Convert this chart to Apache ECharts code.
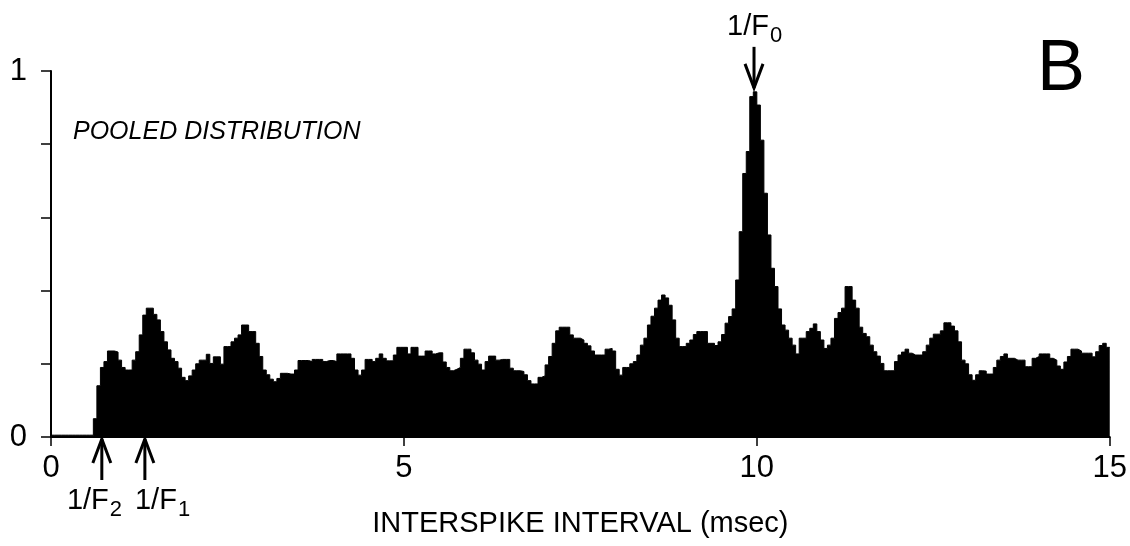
<!DOCTYPE html>
<html>
<head>
<meta charset="utf-8">
<title>Pooled interspike interval distribution</title>
<script src="https://cdn.jsdelivr.net/npm/echarts@6/dist/echarts.min.js"></script>
<style>
  html, body { margin: 0; padding: 0; background: #fff; }
  #chart { width: 1130px; height: 546px; }
</style>
</head>
<body>
<div id="chart"></div>
<script>
// histogram bins, 0.05 ms wide, heights normalised to 1
const binWidth = 0.05;

const bins0to3 = [
  0.005, 0.005, 0.005, 0.005, 0.005, 0.005, 0.005, 0.005, 0.005, 0.005,
  0.005, 0.005, 0.05, 0.14, 0.19, 0.206, 0.235, 0.235, 0.232, 0.21,
  0.19, 0.183, 0.183, 0.21, 0.233, 0.279, 0.333, 0.352, 0.352, 0.335,
  0.32, 0.288, 0.26, 0.238, 0.215, 0.206, 0.188, 0.163, 0.154, 0.167,
  0.183, 0.2, 0.21, 0.21, 0.226, 0.201, 0.219, 0.219, 0.199, 0.247,
  0.247, 0.26, 0.27, 0.279, 0.306, 0.306, 0.288, 0.288, 0.256, 0.22
];
const bins3to6 = [
  0.183, 0.17, 0.158, 0.151, 0.16, 0.174, 0.174, 0.172, 0.172, 0.183,
  0.209, 0.209, 0.209, 0.206, 0.212, 0.212, 0.212, 0.206, 0.209, 0.209,
  0.206, 0.227, 0.227, 0.227, 0.227, 0.215, 0.183, 0.169, 0.183, 0.212,
  0.212, 0.206, 0.215, 0.227, 0.215, 0.208, 0.208, 0.224, 0.245, 0.245,
  0.245, 0.227, 0.245, 0.245, 0.221, 0.221, 0.235, 0.235, 0.227, 0.23,
  0.23, 0.205, 0.19, 0.181, 0.185, 0.19, 0.215, 0.24, 0.24, 0.23
];
const bins6to9 = [
  0.21, 0.199, 0.183, 0.206, 0.221, 0.221, 0.21, 0.212, 0.212, 0.212,
  0.188, 0.181, 0.181, 0.179, 0.17, 0.154, 0.145, 0.145, 0.163, 0.167,
  0.197, 0.22, 0.256, 0.29, 0.3, 0.3, 0.3, 0.279, 0.27, 0.27,
  0.265, 0.256, 0.249, 0.235, 0.224, 0.224, 0.224, 0.24, 0.242, 0.235,
  0.185, 0.169, 0.19, 0.19, 0.2, 0.206, 0.224, 0.251, 0.27, 0.306,
  0.33, 0.352, 0.374, 0.388, 0.38, 0.36, 0.32, 0.27, 0.247, 0.247
];
const bins9to12 = [
  0.256, 0.265, 0.28, 0.288, 0.288, 0.288, 0.256, 0.256, 0.25, 0.26,
  0.28, 0.311, 0.329, 0.35, 0.429, 0.561, 0.72, 0.78, 0.93, 0.943,
  0.907, 0.811, 0.666, 0.552, 0.461, 0.411, 0.35, 0.306, 0.292, 0.27,
  0.251, 0.227, 0.27, 0.27, 0.288, 0.297, 0.309, 0.288, 0.265, 0.242,
  0.251, 0.27, 0.324, 0.34, 0.352, 0.411, 0.411, 0.374, 0.352, 0.3,
  0.283, 0.274, 0.251, 0.233, 0.221, 0.201, 0.181, 0.181, 0.181, 0.206
];
const bins12to15 = [
  0.224, 0.232, 0.24, 0.229, 0.224, 0.224, 0.224, 0.233, 0.251, 0.27,
  0.281, 0.281, 0.29, 0.312, 0.312, 0.303, 0.29, 0.26, 0.21, 0.2,
  0.17, 0.155, 0.17, 0.181, 0.18, 0.172, 0.172, 0.19, 0.21, 0.22,
  0.227, 0.215, 0.215, 0.21, 0.21, 0.21, 0.192, 0.192, 0.215, 0.22,
  0.227, 0.227, 0.227, 0.215, 0.21, 0.194, 0.185, 0.205, 0.22, 0.24,
  0.24, 0.235, 0.229, 0.229, 0.229, 0.219, 0.233, 0.25, 0.256, 0.245
];

// arrows: 1/F2, 1/F1 below the axis, 1/F0 above the main peak (ms)
const markIntervals = [0.72, 1.33, 9.96];
const markSubs = ['2', '1', '0'];

const FONT = '"Liberation Sans", Arial, Helvetica, sans-serif';

const counts = [].concat(bins0to3, bins3to6, bins6to9, bins9to12, bins12to15);
const histData = counts.map((v, i) => [i * binWidth, v]);
histData.push([counts.length * binWidth, counts[counts.length - 1]]);

const chart = echarts.init(document.getElementById('chart'), null, { renderer: 'canvas' });

const option = {
  backgroundColor: '#fff',
  animation: false,
  title: [
    {
      text: 'POOLED DISTRIBUTION',
      left: 68,
      top: 115,
      textStyle: { fontFamily: FONT, fontSize: 25, fontStyle: 'italic', fontWeight: 'normal', color: '#000' }
    },
    {
      text: 'B',
      left: 1032,
      top: 29,
      textStyle: { fontFamily: FONT, fontSize: 72, fontWeight: 'normal', color: '#000' }
    }
  ],
  grid: { left: 51, right: 17, top: 71, bottom: 109 },
  xAxis: {
    type: 'value',
    min: 0,
    max: 15,
    interval: 5,
    name: 'INTERSPIKE INTERVAL (msec)',
    nameLocation: 'middle',
    nameGap: 72,
    nameTextStyle: { fontFamily: FONT, fontSize: 29, color: '#000' },
    axisLine: { lineStyle: { color: '#000', width: 2 } },
    axisTick: { inside: false, length: 9, lineStyle: { color: '#000', width: 1.5 } },
    axisLabel: { fontFamily: FONT, fontSize: 31, color: '#000', margin: 16 },
    splitLine: { show: false }
  },
  yAxis: {
    type: 'value',
    min: 0,
    max: 1,
    interval: 0.2,
    axisLine: { show: true, lineStyle: { color: '#000', width: 2 } },
    axisTick: { show: true, inside: false, length: 10, lineStyle: { color: '#000', width: 1.5 } },
    axisLabel: {
      fontFamily: FONT, fontSize: 31, color: '#000', margin: 24,
      formatter: v => (v === 0 || v === 1) ? String(v) : ''
    },
    splitLine: { show: false }
  },
  series: [
    {
      type: 'line',
      step: 'end',
      data: histData,
      symbol: 'none',
      lineStyle: { color: '#000', width: 1 },
      areaStyle: { color: '#000', opacity: 1 },
      z: 1
    }
  ]
};

chart.setOption(option);

// arrows and 1/F labels placed through the grid's own scales
function arrowShape(x, tipY, tailY) {
  const dir = tailY > tipY ? 1 : -1;
  return [
    { type: 'line', shape: { x1: x, y1: tailY, x2: x, y2: tipY }, style: { stroke: '#000', lineWidth: 3 } },
    {
      type: 'polyline',
      shape: { points: [[x - 9, tipY + dir * 24], [x, tipY], [x + 9, tipY + dir * 24]] },
      style: { stroke: '#000', lineWidth: 3, fill: null }
    }
  ];
}

function labelShape(splitX, y, sub) {
  return [
    {
      type: 'text',
      style: { text: '1/F', x: splitX, y: y, font: '29px ' + FONT, fill: '#000', textAlign: 'right', verticalAlign: 'middle' }
    },
    {
      type: 'text',
      style: { text: sub, x: splitX + 1, y: y + 9, font: '22px ' + FONT, fill: '#000', textAlign: 'left', verticalAlign: 'middle' }
    }
  ];
}

const peak = Math.max.apply(null, counts);
const graphics = [];
markIntervals.forEach((t, k) => {
  if (markSubs[k] === '0') {
    const p = chart.convertToPixel({ gridIndex: 0 }, [t, peak]);
    const tip = p[1] - 4;
    graphics.push(...arrowShape(p[0], tip, tip - 41));
    graphics.push(...labelShape(p[0] + 15, tip - 61, markSubs[k]));
  } else {
    const p = chart.convertToPixel({ gridIndex: 0 }, [t, 0]);
    const tip = p[1] + 2;
    graphics.push(...arrowShape(p[0], tip, tip + 41));
    const shift = markSubs[k] === '2' ? 7 : 32;
    graphics.push(...labelShape(p[0] + shift, tip + 62, markSubs[k]));
  }
});
chart.setOption({ graphic: graphics });

window.addEventListener('resize', () => chart.resize());
</script>
</body>
</html>
